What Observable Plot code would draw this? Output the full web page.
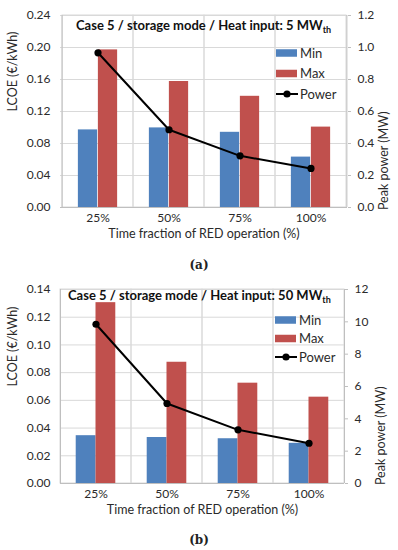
<!DOCTYPE html>
<html><head><meta charset="utf-8">
<script src="https://cdn.jsdelivr.net/npm/d3@7"></script>
<script src="https://cdn.jsdelivr.net/npm/@observablehq/plot@0.6"></script>
<style>
body{margin:0;background:#fff;font-family:Lato,sans-serif;}
#wrap{position:relative;width:398px;height:550px;overflow:hidden;}
.chart{position:absolute;left:0;}
.cap{position:absolute;left:0;width:398px;text-align:center;font-family:"DejaVu Serif",serif;font-size:12px;font-weight:bold;line-height:16px;color:#222;}
</style></head><body><div id="wrap"></div>
<script>
const categories = ["25%","50%","75%","100%"];
const seriesNames = ["Min","Max","Power"];
// chart (a): heat input 5 MWth
const minA = [0.097, 0.0995, 0.094, 0.063];
const maxA = [0.197, 0.1575, 0.139, 0.1005];
const powerA = [0.967, 0.486, 0.323, 0.244];
const leftTicksA = [0, 0.04, 0.08, 0.12, 0.16, 0.20, 0.24];
const rightTicksA = [0, 0.2, 0.4, 0.6, 0.8, 1.0, 1.2];
// chart (b): heat input 50 MWth
const minB = [0.0345, 0.0332, 0.0323, 0.029];
const maxB = [0.1305, 0.0875, 0.0724, 0.0623];
const powerB = [9.85, 4.95, 3.32, 2.49];
const leftTicksB = [0, 0.02, 0.04, 0.06, 0.08, 0.10, 0.12, 0.14];
const rightTicksB = [0, 2, 4, 6, 8, 10, 12];

const xLabel = "Time fraction of RED operation (%)";
const yLabel = "LCOE (€/kWh)";
const y2Label = "Peak power (MW)";

const BLUE = "#4F81BD", RED = "#C0504D", GRID = "#d9d9d9", AXIS = "#bfbfbf", TXT = "#2a2a2a";

function makeChart(o) {
  const W = 398, mL = 60, mR = o.marginRight, mT = 15, mB = 43;
  const yMax = o.leftTicks[o.leftTicks.length - 1];
  const pMax = o.rightTicks[o.rightTicks.length - 1];
  const k = yMax / pMax;
  const rows = categories.map((c, i) => ({cat: c, min: o.min[i], max: o.max[i], power: o.power[i] * k}));
  const bw = (W - mL - mR) / categories.length;
  const barW = bw * 20 / 71.75;
  const pad = (bw - 2 * barW) / 2;
  const svg = Plot.plot({
    width: W, height: o.height,
    marginTop: mT, marginBottom: mB, marginLeft: mL, marginRight: mR,
    style: {fontFamily: "Lato, sans-serif", fontSize: "12px", color: TXT, background: "white"},
    x: {type: "band", domain: categories, padding: 0, label: null, axis: null},
    y: {domain: [0, yMax], label: null, axis: null},
    marks: [
      Plot.ruleY(o.leftTicks, {stroke: GRID}),
      Plot.barY(rows, {x: "cat", y1: 0, y2: yMax, fill: "none", stroke: GRID}),
      Plot.barY(rows, {x: "cat", y: "min", fill: BLUE, insetLeft: pad, insetRight: pad + barW}),
      Plot.barY(rows, {x: "cat", y: "max", fill: RED, insetLeft: pad + barW, insetRight: pad}),
      Plot.ruleY([0], {stroke: AXIS}),
      Plot.ruleX([0], {x: () => categories[0], dx: -bw / 2, y1: 0, y2: yMax, stroke: AXIS}),
      Plot.lineY(rows, {x: "cat", y: "power", stroke: "black", strokeWidth: 2}),
      Plot.dot(rows, {x: "cat", y: "power", r: 3.6, fill: "black"}),
      Plot.axisX(categories, {anchor: "bottom", tickSize: 0, tickPadding: o.xPad, label: null, fill: TXT}),
      Plot.axisY(o.leftTicks, {anchor: "left", tickSize: 0, tickPadding: 10, label: null, fill: TXT,
        tickFormat: d => d.toFixed(2)}),
      Plot.axisY(o.rightTicks.map(v => v * k), {anchor: "right", tickSize: 3, tickPadding: 7, label: null,
        stroke: AXIS, fill: TXT, tickFormat: d => d3.format(o.rightFmt)(d / k)}),
      Plot.ruleX([0], {x: () => categories[categories.length - 1], dx: bw / 2, y1: 0, y2: yMax, stroke: AXIS}),
      Plot.text([yLabel], {frameAnchor: "left", rotate: -90, dx: -48, fontSize: 12.5, fill: TXT}),
      Plot.text([y2Label], {frameAnchor: "right", rotate: -90, dx: 36, fontSize: 12.5, fill: TXT}),
      Plot.text([xLabel], {frameAnchor: "bottom", dy: 30, fontSize: 12.5, fill: TXT})
    ]
  });
  const s = d3.select(svg);
  // title
  const t = s.append("text").attr("x", o.titleX).attr("y", o.titleY).attr("text-anchor", "start")
    .attr("font-family", "Lato, sans-serif").attr("font-weight", "bold").attr("font-size", 13).attr("fill", "#111");
  t.append("tspan").text(o.title);
  t.append("tspan").attr("font-size", 9).attr("dy", 3).text("th");
  // legend
  const lx = o.legendX, ly = o.legendY, gap = o.legendGap;
  const lg = s.append("g").attr("font-family", "Lato, sans-serif").attr("font-size", 13).attr("fill", TXT)
    .attr("text-anchor", "start");
  [[BLUE, 0], [RED, 1]].forEach(([c, i]) => {
    lg.append("rect").attr("x", lx).attr("y", ly + i * gap - 3.75).attr("width", 21).attr("height", 7.5).attr("fill", c);
    lg.append("text").attr("x", lx + 24).attr("y", ly + i * gap).attr("dy", "0.35em").text(seriesNames[i]);
  });
  lg.append("line").attr("x1", lx).attr("x2", lx + 22).attr("y1", ly + 2 * gap).attr("y2", ly + 2 * gap)
    .attr("stroke", "black").attr("stroke-width", 2);
  lg.append("circle").attr("cx", lx + 11).attr("cy", ly + 2 * gap).attr("r", 3.6).attr("fill", "black");
  lg.append("text").attr("x", lx + 24).attr("y", ly + 2 * gap).attr("dy", "0.35em").text(seriesNames[2]);
  return svg;
}

const wrap = document.getElementById("wrap");
const a = makeChart({min: minA, max: maxA, power: powerA, leftTicks: leftTicksA, rightTicks: rightTicksA,
  rightFmt: ".1f", height: 250, marginRight: 51, xPad: 6,
  title: "Case 5 / storage mode / Heat input: 5 MW", titleX: 76, titleY: 30,
  legendX: 276, legendY: 53, legendGap: 20.5});
a.classList.add("chart"); a.style.top = "0px";
wrap.appendChild(a);
const b = makeChart({min: minB, max: maxB, power: powerB, leftTicks: leftTicksB, rightTicks: rightTicksB,
  rightFmt: "d", height: 252, marginRight: 54, xPad: 6,
  title: "Case 5 / storage mode / Heat input: 50 MW", titleX: 68, titleY: 25.5,
  legendX: 275, legendY: 46, legendGap: 18.5});
b.classList.add("chart"); b.style.top = "274px";
wrap.appendChild(b);
const ca = document.createElement("div"); ca.className = "cap"; ca.style.top = "257px"; ca.textContent = "(a)"; wrap.appendChild(ca);
const cb = document.createElement("div"); cb.className = "cap"; cb.style.top = "532px"; cb.textContent = "(b)"; wrap.appendChild(cb);
</script></body></html>
